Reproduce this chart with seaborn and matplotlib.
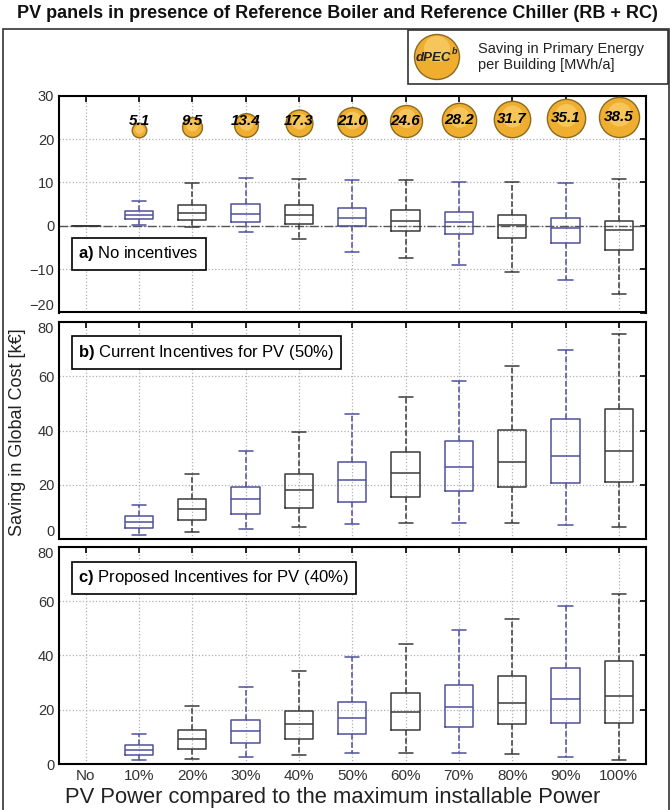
import numpy as np
import pandas as pd
import matplotlib
matplotlib.use("Agg")
import matplotlib.pyplot as plt
import seaborn as sns
from matplotlib.patches import Rectangle, Circle
from matplotlib.transforms import ScaledTranslation

# ---------------- data ----------------
categories = ["No", "10%", "20%", "30%", "40%", "50%", "60%", "70%", "80%", "90%", "100%"]
dpec = [5.1, 9.5, 13.4, 17.3, 21.0, 24.6, 28.2, 31.7, 35.1, 38.5]

# a) No incentives
a_low = [0, 0.15, -0.2, -1.5, -3.1, -6.0, -7.5, -9.1, -10.6, -12.4, -15.7]
a_q1 = [0, 1.5, 1.3, 0.85, 0.5, -0.15, -1.1, -1.8, -2.9, -3.9, -5.5]
a_med = [0, 2.5, 3.0, 2.8, 2.5, 1.7, 1.2, 0.8, 0.1, -0.4, -1.0]
a_q3 = [0, 3.5, 4.9, 5.0, 4.7, 4.2, 3.7, 3.2, 2.5, 1.8, 1.2]
a_high = [0, 5.8, 9.9, 11.0, 10.8, 10.5, 10.6, 10.2, 10.2, 9.9, 10.8]

# b) Current incentives (50%)
b_low = [0, 1.5, 2.5, 3.6, 4.6, 5.4, 6.0, 6.0, 5.8, 5.2, 4.5]
b_q1 = [0, 4.1, 7.0, 9.4, 11.5, 13.8, 15.4, 17.7, 19.3, 20.7, 21.1]
b_med = [0, 6.2, 10.9, 14.7, 18.2, 21.6, 24.2, 26.5, 28.5, 30.6, 32.4]
b_q3 = [0, 8.3, 14.6, 19.3, 23.9, 28.5, 32.2, 36.1, 40.3, 44.2, 47.9]
b_high = [0, 12.4, 23.8, 32.4, 39.4, 46.0, 52.2, 58.2, 63.9, 69.8, 75.4]

# c) Proposed incentives (40%)
c_low = [0, 1.3, 1.9, 2.6, 3.4, 4.1, 4.2, 4.0, 3.5, 2.6, 1.5]
c_q1 = [0, 3.4, 5.5, 7.8, 9.2, 11.1, 12.6, 13.6, 14.6, 15.0, 15.2]
c_med = [0, 5.2, 9.2, 12.0, 14.7, 17.1, 19.1, 20.9, 22.3, 23.8, 25.2]
c_q3 = [0, 7.1, 12.4, 16.1, 19.5, 23.0, 26.2, 29.2, 32.3, 35.3, 38.1]
c_high = [0, 10.9, 21.2, 28.4, 34.2, 39.4, 44.2, 49.2, 53.5, 58.2, 62.6]

panel_titles = [r"$\mathbf{a)}$ No incentives",
                r"$\mathbf{b)}$ Current Incentives for PV (50%)",
                r"$\mathbf{c)}$ Proposed Incentives for PV (40%)"]
a_yticks = [-20, -10, 0, 10, 20, 30]
bc_yticks = [0, 20, 40, 60, 80]


def long_frame(low, q1, med, q3, high):
    rows = []
    for cat, *vals in zip(categories, low, q1, med, q3, high):
        for v in vals:
            rows.append((cat, v))
    return pd.DataFrame(rows, columns=["cat", "val"])


frames = [long_frame(a_low, a_q1, a_med, a_q3, a_high),
          long_frame(b_low, b_q1, b_med, b_q3, b_high),
          long_frame(c_low, c_q1, c_med, c_q3, c_high)]

# ---------------- style ----------------
sns.set_theme(style="white")
plt.rcParams["font.family"] = ["Liberation Sans", "DejaVu Sans"]
plt.rcParams["mathtext.fontset"] = "custom"
plt.rcParams["mathtext.rm"] = "Liberation Sans"
plt.rcParams["mathtext.bf"] = "Liberation Sans:bold"
plt.rcParams["mathtext.it"] = "Liberation Sans:italic"

BLUE = "#4f4f9c"
DARK = "#3a3a3a"
GOLD = "#f0ae30"
GOLD_EDGE = "#8a6a1c"
palette = {c: (BLUE if i % 2 == 1 else DARK) for i, c in enumerate(categories)}

fig = plt.figure(figsize=(6.7, 8.1), dpi=100)
W, H = 670.0, 810.0
left = 59 / W
width = (645.5 - 59) / W
boxes_px = [(95.7, 312.5), (322.0, 539.0), (546.7, 764.0)]
axes = []
for top, bot in boxes_px:
    axes.append(fig.add_axes([left, 1 - bot / H, width, (bot - top) / H]))

ylims = [(-20, 30), (0, 80), (0, 80)]
yticks = [a_yticks, bc_yticks, bc_yticks]
label_y = [0.27, 0.86, 0.857]

for k, ax in enumerate(axes):
    sns.boxplot(data=frames[k], x="cat", y="val", hue="cat", order=categories,
                hue_order=categories, palette=palette, fill=False, width=0.53,
                whis=(0, 100), linewidth=1.1, showfliers=False, legend=False,
                whiskerprops=dict(linestyle="--"), ax=ax)
    ax.set_xlim(-0.5, len(categories) - 0.5)
    ax.set_ylim(*ylims[k])
    ax.set_yticks(yticks[k])
    ax.set_xlabel("")
    ax.set_ylabel("")
    ax.set_axisbelow(True)
    ax.grid(True, axis="both", linestyle=":", color="#b0b0b0", linewidth=0.9)
    ax.tick_params(direction="in", top=True, right=True, length=4, width=1.2,
                   colors="black", labelcolor="#333333", labelsize=10.5)
    for sp in ax.spines.values():
        sp.set_visible(True)
        sp.set_color("black")
        sp.set_linewidth(1.5)
    if k < 2:
        ax.set_xticklabels([])
    else:
        ax.set_xticks(range(len(categories)))
        ax.set_xticklabels(categories, fontsize=11)
    ax.text(0.033, label_y[k], panel_titles[k], transform=ax.transAxes,
            ha="left", va="center", fontsize=12, color="black", zorder=10,
            bbox=dict(boxstyle="square,pad=0.4", fc="white", ec="black", lw=1.2))

# keep edge tick labels inside their own panel (as in the reference)
yt = axes[0].yaxis.get_major_ticks()
yt[0].label1.set_verticalalignment("bottom")
yt = axes[1].yaxis.get_major_ticks()
yt[0].label1.set_verticalalignment("bottom")
yt[-1].label1.set_verticalalignment("top")
yt = axes[2].yaxis.get_major_ticks()
yt[-1].label1.set_verticalalignment("top")

# zero reference line in panel a
axes[0].axhline(0, color="#555555", linestyle="-.", linewidth=1.0, zorder=1)

# dPEC bubbles in panel a
ax = axes[0]
base = 20.5
for i, v in enumerate(dpec):
    xpos = categories.index(categories[i + 1])
    d_pt = 4.65 * np.sqrt(v)
    r_pt = d_pt / 2
    off = ScaledTranslation(0, r_pt / 72, fig.dpi_scale_trans)
    ax.scatter([xpos], [base], s=d_pt ** 2, color=GOLD, edgecolor=GOLD_EDGE,
               linewidth=1.0, transform=ax.transData + off, zorder=5, clip_on=False)
    # soft highlight
    off2 = ScaledTranslation(0, r_pt * 1.15 / 72, fig.dpi_scale_trans)
    ax.scatter([xpos], [base], s=(d_pt * 0.6) ** 2, color="#f8cc66", linewidth=0,
               alpha=0.8, transform=ax.transData + off2, zorder=5, clip_on=False)
    toff = ScaledTranslation(0, max(r_pt, 11.5) / 72, fig.dpi_scale_trans)
    ax.text(xpos, base, f"{v:.1f}", transform=ax.transData + toff, ha="center",
            va="center", fontsize=11, fontweight="bold", fontstyle="italic",
            color="black", zorder=6)
ax.set_ylim(*ylims[0])

# ---------------- figure-level decorations ----------------
fig.text(337 / W, 1 - 14 / H,
         "PV panels in presence of Reference Boiler and Reference Chiller (RB + RC)",
         ha="center", va="center", fontsize=13, fontweight="bold", color="#111111")

fig.add_artist(Rectangle((3 / W, -0.01), (669 - 3) / W, 1 - 29 / H + 0.01,
                         transform=fig.transFigure, fill=False, ec="#333333", lw=1.2))

# legend box
fig.add_artist(Rectangle((408 / W, 1 - 84 / H), (668 - 408) / W, (84 - 30) / H,
                         transform=fig.transFigure, fc="white", ec="#333333", lw=1.2))
fig.add_artist(Circle((437 / 100, (H - 57) / 100), 0.225, transform=fig.dpi_scale_trans,
                      fc=GOLD, ec=GOLD_EDGE, lw=1.0))
fig.add_artist(Circle((437 / 100, (H - 49) / 100), 0.13, transform=fig.dpi_scale_trans,
                      fc="#f8cc66", lw=0, alpha=0.8))
fig.text(451 / W, 1 - 58 / H, "dPEC", ha="right", va="center", fontsize=9.5,
         fontweight="bold", fontstyle="italic", color="#222222")
fig.text(451.5 / W, 1 - 52 / H, "b", ha="left", va="center", fontsize=6.5,
         fontweight="bold", fontstyle="italic", color="#222222")
fig.text(478 / W, 1 - 57 / H, "Saving in Primary Energy\nper Building [MWh/a]",
         ha="left", va="center", fontsize=10.5, color="#222222", linespacing=1.15)

fig.text(18 / W, 1 - 432 / H, "Saving in Global Cost [k\u20ac]", rotation=90,
         ha="center", va="center", fontsize=13, color="#222222")
fig.text(333 / W, 1 - 797 / H, "PV Power compared to the maximum installable Power",
         ha="center", va="center", fontsize=15.8, color="#222222")

fig.savefig("out.png", dpi=100)
